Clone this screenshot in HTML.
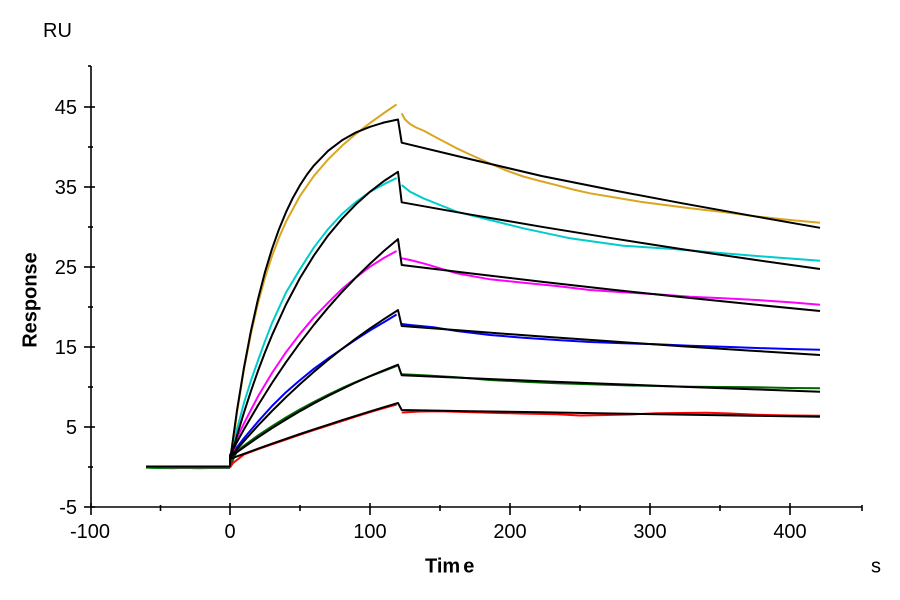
<!DOCTYPE html>
<html>
<head>
<meta charset="utf-8">
<style>
  html,body{margin:0;padding:0;background:#fff;}
  svg{display:block;}
  text{font-family:"Liberation Sans", Arial, sans-serif;fill:#000;}
</style>
</head>
<body>
<svg width="900" height="600" viewBox="0 0 900 600" xmlns="http://www.w3.org/2000/svg">
  <rect x="0" y="0" width="900" height="600" fill="#fff"/>

  <!-- Axes -->
  <g stroke="#000" stroke-width="1.6" fill="none">
    <line x1="91" y1="66" x2="91" y2="507"/>
    <line x1="91" y1="507" x2="862" y2="507"/>
    <line x1="84" y1="107" x2="95" y2="107"/>
    <line x1="84" y1="187" x2="95" y2="187"/>
    <line x1="84" y1="267" x2="95" y2="267"/>
    <line x1="84" y1="347" x2="95" y2="347"/>
    <line x1="84" y1="427" x2="95" y2="427"/>
    <line x1="84" y1="507" x2="95" y2="507"/>
    <line x1="88" y1="147" x2="93" y2="147"/>
    <line x1="88" y1="227" x2="93" y2="227"/>
    <line x1="88" y1="307" x2="93" y2="307"/>
    <line x1="88" y1="387" x2="93" y2="387"/>
    <line x1="88" y1="467" x2="93" y2="467"/>
    <line x1="88" y1="66" x2="91" y2="66"/>
    <line x1="91" y1="503" x2="91" y2="515"/>
    <line x1="230" y1="503" x2="230" y2="515"/>
    <line x1="370" y1="503" x2="370" y2="515"/>
    <line x1="510" y1="503" x2="510" y2="515"/>
    <line x1="650" y1="503" x2="650" y2="515"/>
    <line x1="790" y1="503" x2="790" y2="515"/>
    <line x1="160.5" y1="505" x2="160.5" y2="511"/>
    <line x1="300" y1="505" x2="300" y2="511"/>
    <line x1="440" y1="505" x2="440" y2="511"/>
    <line x1="580" y1="505" x2="580" y2="511"/>
    <line x1="720" y1="505" x2="720" y2="511"/>
    <line x1="862" y1="505" x2="862" y2="511"/>
  </g>

  <g font-size="20" text-anchor="end">
    <text x="77" y="114">45</text>
    <text x="77" y="194">35</text>
    <text x="77" y="274">25</text>
    <text x="77" y="354">15</text>
    <text x="77" y="434">5</text>
    <text x="77" y="514">-5</text>
  </g>
  <g font-size="20" text-anchor="middle">
    <text x="90" y="538">-100</text>
    <text x="230" y="538">0</text>
    <text x="370" y="538">100</text>
    <text x="510" y="538">200</text>
    <text x="650" y="538">300</text>
    <text x="790" y="538">400</text>
  </g>

  <text x="43" y="37" font-size="20">RU</text>
  <text x="871" y="572.5" font-size="20">s</text>
  <text x="425" y="572.5" font-size="20" font-weight="bold">Tim<tspan dx="3">e</tspan></text>
  <text transform="translate(36.5,300) rotate(-90)" font-size="20" font-weight="bold" text-anchor="middle">Response</text>

  <!-- Data curves -->
  <g fill="none" stroke-width="2" stroke-linejoin="round">
    <polyline stroke="#DAA520" points="146,467.3 160,467.8 175,467.2 190,467.8 205,467.3 220,467.6 230,467.5"/>
    <polyline stroke="#00CCCC" points="150,467.8 165,468 180,467.6 195,468.1 212,467.7 230,467.8"/>
    <polyline stroke="#FF00FF" points="160,468 172,468.3 185,467.9 200,468.2 215,467.9 230,468"/>
    <polyline stroke="#008000" points="146,467.6 158,468 170,467.7 230,467.7"/>

    <polyline stroke="#DAA520" points="230,467.5 231.5,458 237,412.3 244,369.3 251,333.4 258,303.2 265,277.7 272,256.1 279,237.6 286,221.7 300,195.9 314,175.8 328,159.5 342,145.8 356,133.8 370,123.0 384,113.0 396.6,104.4"/>
    <polyline stroke="#DAA520" points="401.7,113.3 405,119.5 410,124 416,127.5 423.3,130.5 440,139.5 456.7,148.3 470,154.5 486.7,162 505,170 523.3,176.5 540,181 556.7,185.2 573,189.5 590,193.3 615,197.5 640,201.7 665,205 690,208.3 723,212 756.7,216.5 790,220 820,222.7"/>

    <polyline stroke="#00CCCC" points="230,467.5 231.5,460 237,429.2 244,402.8 251,380.5 258,360.5 265,341.2 272,323.2 286,292.5 300,269.2 314,247.3 328,229.2 342,214.0 356,201.9 370,191.8 384,184.2 396.6,178.0"/>
    <polyline stroke="#00CCCC" points="401.7,185 410,191.7 423.3,198.3 440,205 456.7,211.7 490,220 523.3,228.3 570,238.3 623.3,245.7 673.3,249 723.3,253.3 773.3,257.3 820,260.7"/>

    <polyline stroke="#FF00FF" points="230,467.5 232,462 237,438.0 244,423.3 258,396.4 272,373.0 286,352.2 300,333.8 314,317.2 328,302.8 342,289.0 356,277.4 370,266.7 384,257.9 396.6,251"/>
    <polyline stroke="#FF00FF" points="401.7,258.3 410,260 423.3,263.3 440,268.3 456.7,273.3 490,279.3 523.3,282.7 556.7,286 590,290 623.3,292.3 656.7,294.3 690,296.7 723.3,298.3 756.7,300 790,302.3 820,304.7"/>

    <polyline stroke="#0000FF" points="230,467.5 232,462 237,447.2 244,438.1 258,421.6 272,406.0 286,392.2 300,380.1 314,368.7 328,358.5 342,348.9 356,339.4 370,330.4 384,322.1 396.6,314.5"/>
    <polyline stroke="#0000FF" points="401.7,324 410,325 433.3,327.3 456.7,331 490,335 523.3,337.7 556.7,340 590,342 623.3,343.3 656.7,344.3 690,345.7 723.3,346.7 756.7,348 790,349 820,349.7"/>

    <polyline stroke="#006400" points="230,467.5 232,462 237,451.2 244,445.7 258,435.4 272,426.2 286,417.5 300,409.4 314,401.9 328,394.8 342,388.1 356,381.9 370,376.2 384,371.0 396.6,366"/>
    <polyline stroke="#006400" points="401.7,374.3 423.3,375.3 456.7,377.3 490,380 523.3,381.7 556.7,383.3 590,384.3 623.3,385.3 656.7,386 690,386.7 723.3,387 756.7,387.3 790,388 820,388.3"/>

    <polyline stroke="#FF0000" points="230,467.5 233,463 244,454.5 258,449.2 272,444.3 286,439.5 300,434.7 314,430 328,425.5 342,421 356,416.5 370,412.2 384,408 396.6,404.5"/>
    <polyline stroke="#FF0000" points="401.7,412.5 420,411.5 440,411.3 465,412 490,412.7 520,413.5 556.7,414.3 580,415.5 606.7,415 630,414.5 656.7,413.3 680,413 706.7,412.7 730,413.5 756.7,414.7 790,415.5 820,415.7"/>
  </g>

  <!-- Fit curves (black) -->
  <g fill="none" stroke="#000" stroke-width="2" stroke-linejoin="round">
    <polyline points="146,466.5 230,466.5"/>
    <polyline points="230,466.5 230,460.6 237,410.4 244,367.4 251,330.6 258,299.1 265,272.0 272,248.9 279,229.2 286,212.2 293,197.6 300,185.2 307,174.5 314,165.4 328,150.9 342,140.3 356,132.4 370,126.8 384,122.5 398,119.5 401.7,142.7 471.7,159.5 541.7,176 611.7,190 681.7,203.2 751.7,215.8 820,227.8"/>
    <polyline points="230,466.5 230,460.6 237,435.6 244,412.4 251,390.9 258,370.9 265,352.4 272,335.2 286,304.5 300,278.0 314,255.3 328,235.6 342,218.8 356,204.3 370,191.8 384,181.0 398,171.8 401.7,202.3 471.7,214.8 541.7,226.8 611.7,238.2 681.7,249.1 751.7,259.4 820,269"/>
    <polyline points="230,466.5 230,455 237,442.0 244,429.3 258,405.4 272,383.0 286,362.2 300,342.8 314,324.7 328,307.8 342,292.0 356,277.4 370,263.7 384,250.9 398,239.1 401.7,265 471.7,273.5 541.7,281.8 611.7,289.6 681.7,297.1 751.7,304.3 820,311"/>
    <polyline points="230,466.5 230,457.4 237,449.2 244,441.1 258,425.6 272,411.0 286,397.2 300,384.1 314,371.7 328,360.0 342,348.9 356,338.4 370,328.4 384,319.1 398,310.1 401.7,326 471.7,331.3 541.7,336.5 611.7,341.4 681.7,346.2 751.7,350.7 820,355"/>
    <polyline points="230,466.5 230,457.4 237,452.2 244,447.2 258,437.4 272,428.2 286,419.5 300,411.2 314,403.4 328,396.0 342,389.1 356,382.4 370,376.2 384,370.3 398,364.7 401.7,375.3 471.7,378.3 541.7,381.2 611.7,384.0 681.7,386.7 751.7,389.2 820,391.7"/>
    <polyline points="230,466.5 230,459 244,453.8 258,448.7 272,443.7 286,438.8 300,434.0 314,429.3 328,424.8 342,420.2 356,415.8 370,411.4 384,407.2 398,403.0 401.7,410 471.7,411.2 541.7,412.3 611.7,413.5 681.7,414.6 751.7,415.7 820,416.7"/>
  </g>
</svg>
</body>
</html>
